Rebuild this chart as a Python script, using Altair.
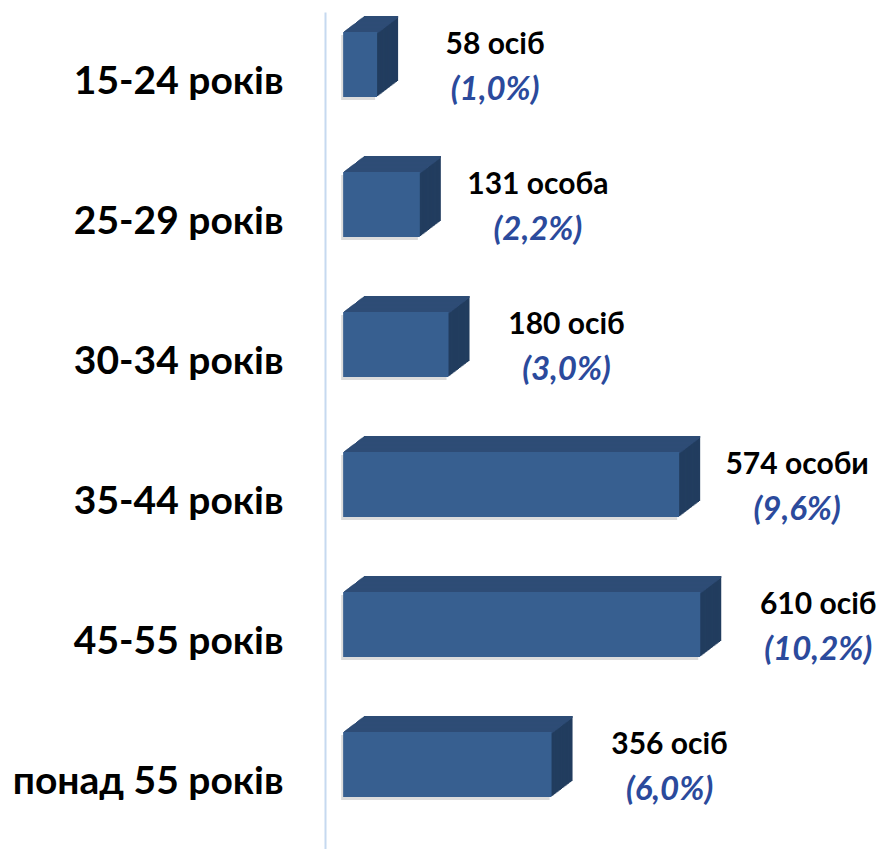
import altair as alt
import pandas as pd

categories = ["15-24 років", "25-29 років", "30-34 років", "35-44 років", "45-55 років", "понад 55 років"]
counts = [58, 131, 180, 574, 610, 356]
count_labels = ["58 осіб", "131 особа", "180 осіб", "574 особи", "610 осіб", "356 осіб"]
pct_labels = ["(1,0%)", "(2,2%)", "(3,0%)", "(9,6%)", "(10,2%)", "(6,0%)"]

df = pd.DataFrame({"cat": categories, "count": counts, "lab": count_labels, "pct": pct_labels})

FRONT = "#375f90"
TOP = "#2e4c76"
SIDE = "#223d5f"
FONT = "Lato"

base = alt.Chart(df)
x = alt.X("count:Q", scale=alt.Scale(domain=[-31, 900], nice=False, zero=False), axis=None)
x2 = alt.X2(datum=0)
y = alt.Y("cat:N", sort=categories, title=None,
          scale=alt.Scale(paddingInner=0, paddingOuter=0),
          axis=alt.Axis(labelFont=FONT, labelFontWeight="bold", labelFontSize=39,
                        labelColor="black", labelPadding=42, ticks=False,
                        domainColor="#c6d9f0", domainWidth=2, labelLimit=400))

BAR = 65
CY = -17.5
N = 18
DX, DY = 21.0, 16.0

layers = []
# extrusion body (side colour)
for i in range(N, 0, -1):
    ox, oy = i * DX / N, i * DY / N
    layers.append(base.mark_bar(size=BAR, color=SIDE, xOffset=ox, x2Offset=ox, yOffset=CY - oy)
                  .encode(x=x, x2=x2, y=y))
# top face strips
for i in range(N, 0, -1):
    ox, oy = i * DX / N, i * DY / N
    layers.append(base.mark_bar(size=2.2, color=TOP, xOffset=ox, x2Offset=ox,
                                yOffset=CY - BAR / 2 - oy + 1)
                  .encode(x=x, x2=x2, y=y))
# soft shadow
layers.append(base.mark_bar(size=BAR, color="#9a9a9a", opacity=0.35, xOffset=-2, x2Offset=-2,
                            yOffset=CY + 3)
              .encode(x=x, x2=x2, y=y))
# front face
layers.append(base.mark_bar(size=BAR, color=FRONT, yOffset=CY).encode(x=x, x2=x2, y=y))

# labels
layers.append(base.mark_text(dx=118, dy=-37, align="center", baseline="middle",
                             font=FONT, fontSize=30, fontWeight="bold", color="black")
              .encode(x="count:Q", y=alt.Y("cat:N", sort=categories), text="lab:N"))
layers.append(base.mark_text(dx=118, dy=8, align="center", baseline="middle",
                             font=FONT, fontSize=33, fontWeight="bold", fontStyle="italic",
                             color="#2b4a9c")
              .encode(x="count:Q", y=alt.Y("cat:N", sort=categories), text="pct:N"))

chart = alt.layer(*layers).properties(
    width=545, height=840,
    autosize=alt.AutoSizeParams(type="none"),
    padding={"left": 317, "top": 4, "right": 14, "bottom": 0},
).configure_view(stroke=None)

chart.save("out.html", embed_options={"renderer": "svg", "actions": False})
